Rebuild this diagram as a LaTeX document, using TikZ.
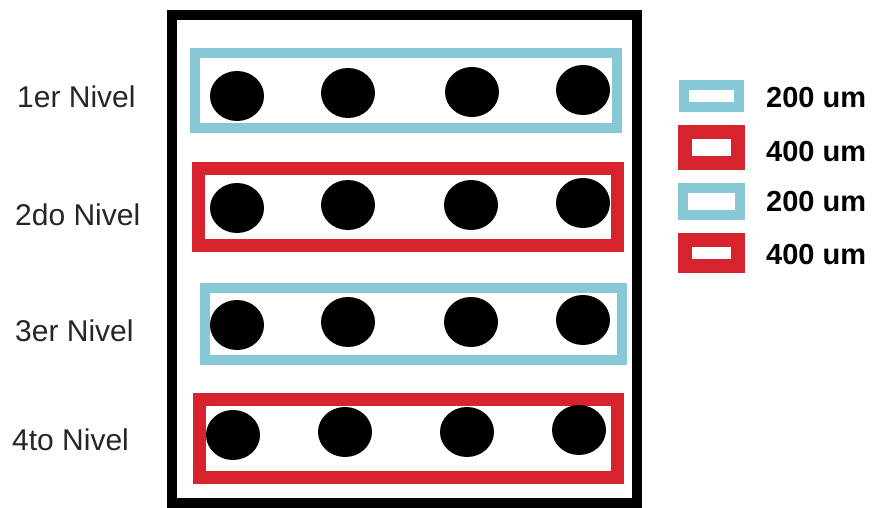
\documentclass[tikz,border=0pt]{standalone}
\usepackage{fontspec}
\setmainfont{Liberation Sans}
\usetikzlibrary{shapes.geometric}
\definecolor{cyanb}{RGB}{135,200,215}
\definecolor{redb}{RGB}{215,35,45}
\begin{document}
\begin{tikzpicture}[x=1pt,y=-1pt,
  dot/.style={ellipse,fill=black,draw=none,minimum width=54pt,minimum height=50pt,inner sep=0pt},
  cyanframe/.style={draw=cyanb,line width=10pt},
  redframe/.style={draw=redb,line width=13pt},
  lvl/.style={anchor=west,font=\fontsize{30}{32}\selectfont,inner sep=0pt,text=black!85},
  leg/.style={anchor=west,font=\fontsize{29}{31}\selectfont\bfseries,inner sep=0pt}]
\useasboundingbox[fill=white] (0,0) rectangle (881,508);
% outer frame
\draw[line width=10pt,black] (172,15) rectangle (637,503);
% level frames
\draw[cyanframe] (195,53) rectangle (617,128);
\draw[redframe] (198,169) rectangle (617,245);
\draw[cyanframe] (205,288) rectangle (622,360);
\draw[redframe] (199,399) rectangle (617,477);
% dots
\node[dot] (a1) at (237,96) {};
\node[dot] (a2) at (348,93) {};
\node[dot] (a3) at (472,92) {};
\node[dot] (a4) at (583,90) {};
\node[dot] (b1) at (237,208) {};
\node[dot] (b2) at (348,205) {};
\node[dot] (b3) at (471,205) {};
\node[dot] (b4) at (583,203) {};
\node[dot] (c1) at (237,325) {};
\node[dot] (c2) at (348,322) {};
\node[dot] (c3) at (471,322) {};
\node[dot] (c4) at (583,320) {};
\node[dot] (d1) at (233,435) {};
\node[dot] (d2) at (345,432) {};
\node[dot] (d3) at (467,432) {};
\node[dot] (d4) at (579,430) {};
% level labels
\node[lvl] (l1) at (17,97) {1er Nivel};
\node[lvl] (l2) at (15,215) {2do Nivel};
\node[lvl] (l3) at (15,331) {3er Nivel};
\node[lvl] (l4) at (12,440) {4to Nivel};
% legend
\draw[draw=cyanb,line width=10pt] (684,85) rectangle (739,107);
\draw[draw=redb,line width=14pt] (685,132) rectangle (738,163);
\draw[draw=cyanb,line width=10pt] (683,188) rectangle (740,215);
\draw[draw=redb,line width=14pt] (685,240) rectangle (738,266);
\node[leg] (t1) at (766,98) {200 um};
\node[leg] (t2) at (766,152) {400 um};
\node[leg] (t3) at (766,202) {200 um};
\node[leg] (t4) at (766,255) {400 um};
\end{tikzpicture}
\end{document}
